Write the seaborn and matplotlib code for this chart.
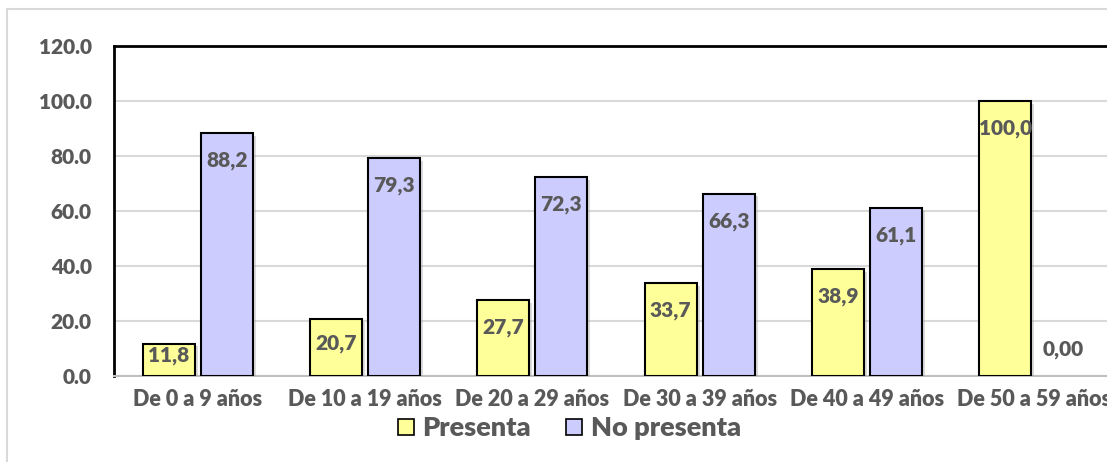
import matplotlib
matplotlib.use("Agg")
import matplotlib.pyplot as plt
import matplotlib.patheffects as pe
from matplotlib.patches import Rectangle
from matplotlib.lines import Line2D
import pandas as pd
import seaborn as sns

grupos = ["De 0 a 9 años", "De 10 a 19 años", "De 20 a 29 años",
          "De 30 a 39 años", "De 40 a 49 años", "De 50 a 59 años"]
presenta = [11.8, 20.7, 27.7, 33.7, 38.9, 100.0]
no_presenta = [88.2, 79.3, 72.3, 66.3, 61.1, 0.0]
series = ["Presenta", "No presenta"]
colores = ["#FFFF99", "#CCCCFF"]
yticks = [0, 20, 40, 60, 80, 100, 120]

df = pd.DataFrame({
    "grupo": grupos * 2,
    "serie": [series[0]] * len(grupos) + [series[1]] * len(grupos),
    "valor": presenta + no_presenta,
})

sns.set_theme(style="white")
plt.rcParams["font.family"] = ["Lato", "DejaVu Sans"]
gris = "#595959"

fig = plt.figure(figsize=(11.07, 4.62), dpi=100)
ax = fig.add_axes([114 / 1107, 86 / 462, 1004 / 1107, 330 / 462])

sns.barplot(data=df, x="grupo", y="valor", hue="serie", palette=colores,
            width=0.693, gap=0.1, edgecolor="black", linewidth=1.5,
            saturation=1, ax=ax, legend=False, zorder=3)

sombra = [pe.SimplePatchShadow(offset=(2, -2), shadow_rgbFace="#9a9a9a", alpha=0.35),
          pe.Normal()]
for cont in ax.containers:
    for p in cont:
        p.set_path_effects(sombra)
        if p.get_height() == 0:
            p.set_linewidth(0)
            p.set_path_effects([])

def etiqueta(v):
    return "0,00" if v == 0 else f"{v:.1f}".replace(".", ",")

for cont, vals in zip(ax.containers, [presenta, no_presenta]):
    for p, v in zip(cont, vals):
        xc = p.get_x() + p.get_width() / 2
        if v == 0:
            y = v + 9.5
        else:
            y = max(v - 10, v / 2 + 1.5)
        ax.text(xc, y, etiqueta(v), ha="center", va="center",
                fontsize=15, fontweight="heavy", color=gris, zorder=5)

ax.set_xlim(-0.5, 5.5)
ax.set_ylim(0, 120)
ax.set_yticks(yticks)
ax.set_yticklabels([f"{t:.1f}" for t in yticks])
ax.set_xlabel("")
ax.set_ylabel("")
ax.yaxis.grid(True, color="#d9d9d9", linewidth=1.5, zorder=0)
ax.set_axisbelow(True)
ax.tick_params(axis="y", length=0, pad=16, labelsize=15, labelcolor=gris)
ax.tick_params(axis="x", length=0, pad=9, labelsize=15.5, labelcolor=gris)
for lbl in ax.get_xticklabels() + ax.get_yticklabels():
    lbl.set_fontweight("heavy")

ax.spines["left"].set_color("black")
ax.spines["left"].set_linewidth(2)
ax.spines["top"].set_color("black")
ax.spines["top"].set_linewidth(2)
ax.spines["right"].set_visible(False)
ax.spines["bottom"].set_color("#bfbfbf")
ax.spines["bottom"].set_linewidth(1.5)

# marco exterior del gráfico
fig.add_artist(Rectangle((7 / 1107, -0.1), 1.2, 1 - 9 / 462 + 0.1,
                         transform=fig.transFigure, fill=False,
                         edgecolor="#d9d9d9", linewidth=1.5))

handles = [Line2D([], [], marker="s", linestyle="", markersize=11,
                  markerfacecolor=c, markeredgecolor="black", markeredgewidth=1.2)
           for c in colores]
leg = fig.legend(handles, series, loc="center", ncol=2, frameon=False,
                 bbox_to_anchor=(568 / 1107, 1 - 428 / 462),
                 prop={"weight": "heavy", "size": 19.5}, handletextpad=0.2,
                 columnspacing=1.2, handlelength=0.8)
for t in leg.get_texts():
    t.set_color(gris)

fig.savefig("out.png", dpi=100)
